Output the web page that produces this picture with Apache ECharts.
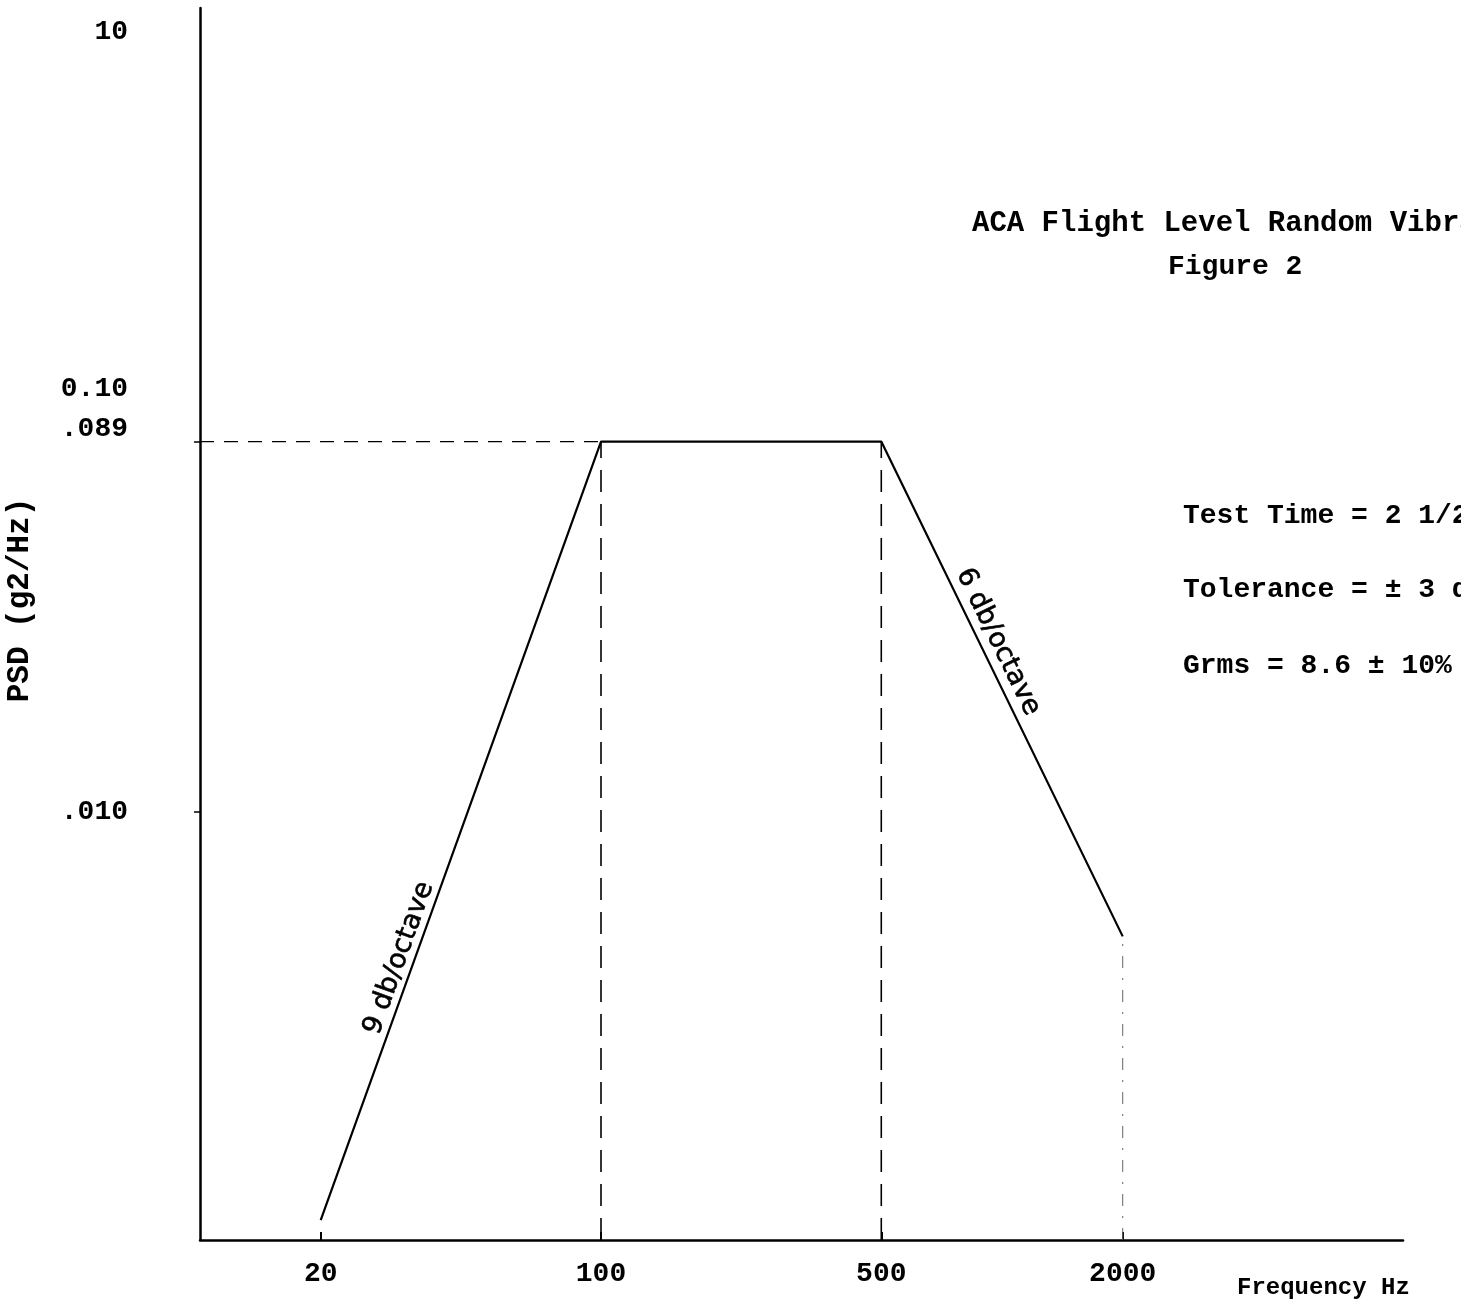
<!DOCTYPE html>
<html><head><meta charset="utf-8">
<script src="https://cdn.jsdelivr.net/npm/echarts@6/dist/echarts.min.js"></script>
<style>html,body{margin:0;padding:0;background:#fff}#c{width:1461px;height:1305px}</style>
</head><body><div id="c"></div>
<script>
// ---- data ----
const frequencies = [20, 100, 500, 2000];
const psdValues = [0.0009, 0.089, 0.089, 0.0048];
const xTickValues = [20, 100, 500, 2000];
const xTickLabels = ['20', '100', '500', '2000'];
const yTickValues = [1.0, 0.10, 0.089, 0.010];
const yTickLabels = ['10', '0.10', '.089', '.010'];
const yMarkedTicks = [0.089, 0.010];
const xRange = [10, 10000];
const yRange = [0.0008, 1.15];
const slopeLabels = ['9 db/octave', '6 db/octave'];
const titleLines = ['ACA Flight Level Random Vibration', 'Figure 2'];
const noteLines = ['Test Time = 2 1/2', 'Tolerance = \u00b1 3 db', 'Grms = 8.6 \u00b1 10%'];
const xName = 'Frequency Hz';
const yName = 'PSD (g2/Hz)';

// ---- styles ----
const TYPE = '"Liberation Mono", "DejaVu Sans Mono", monospace';
const SANS = '"DejaVu Sans", "Liberation Sans", sans-serif';
const labelLift = { '0.10': 66, '.089': 26 }; // extra empty line height -> visual lift

function findIdx(arr, v) {
  for (let i = 0; i < arr.length; i++) {
    if (Math.abs(arr[i] - v) <= Math.abs(arr[i]) * 1e-6) return i;
  }
  return -1;
}

const chart = echarts.init(document.getElementById('c'), null, { renderer: 'canvas' });

const dashStyle = { color: '#000', width: 1.6, type: [22, 12] };
const guideSeries = [];
guideSeries.push({
  type: 'line', silent: true, symbol: 'none', animation: false,
  lineStyle: { color: '#000', width: 1.4, type: [14, 10] },
  data: [[xRange[0], psdValues[1]], [frequencies[1], psdValues[1]]]
});
for (let i = 1; i < frequencies.length; i++) {
  const last = i === frequencies.length - 1;
  guideSeries.push({
    type: 'line', silent: true, symbol: 'none', animation: false,
    lineStyle: last ? { color: '#666', width: 1, type: [12, 10, 2, 10] } : dashStyle,
    data: [[frequencies[i], yRange[0]], [frequencies[i], psdValues[i]]]
  });
}

chart.setOption({
  animation: false,
  backgroundColor: '#fff',
  grid: { left: 200, right: 58, top: 8, bottom: 65, containLabel: false, outerBoundsMode: 'none' },
  xAxis: {
    type: 'log', min: xRange[0], max: xRange[1],
    axisLine: { show: true, lineStyle: { color: '#000', width: 2.5 } },
    axisTick: { show: true, inside: true, length: 8, customValues: xTickValues, lineStyle: { color: '#000', width: 2 } },
    minorTick: { show: false },
    splitLine: { show: false },
    axisLabel: {
      show: true, customValues: xTickValues, margin: 20,
      fontFamily: TYPE, fontSize: 28, fontWeight: 'bold', color: '#000',
      formatter: function (v) { const i = findIdx(xTickValues, v); return i >= 0 ? xTickLabels[i] : ''; }
    }
  },
  yAxis: {
    type: 'log', min: yRange[0], max: yRange[1],
    name: yName, nameLocation: 'middle', nameRotate: 90, nameGap: 164,
    nameTextStyle: { fontFamily: TYPE, fontSize: 31, fontWeight: 'bold', color: '#000', padding: [0, 0, 0, 48] },
    axisLine: { show: true, lineStyle: { color: '#000', width: 2.5 } },
    axisTick: { show: true, length: 6, customValues: yMarkedTicks, lineStyle: { color: '#000', width: 1.5 } },
    minorTick: { show: false },
    splitLine: { show: false },
    axisLabel: {
      show: true, customValues: yTickValues, margin: 72,
      color: '#000',
      formatter: function (v) {
        const i = findIdx(yTickValues, v);
        if (i < 0) return '';
        const t = yTickLabels[i];
        const lift = labelLift[t];
        if (lift === 66) return '{t|' + t + '}\n{s66| }';
        if (lift === 26) return '{t|' + t + '}\n{s26| }';
        return '{t|' + t + '}';
      },
      rich: {
        t: { fontFamily: TYPE, fontSize: 28, fontWeight: 'bold', color: '#000', lineHeight: 26 },
        s66: { fontSize: 2, lineHeight: 66 },
        s26: { fontSize: 2, lineHeight: 26 }
      }
    }
  },
  series: [
    {
      type: 'line', name: 'PSD', symbol: 'none', silent: true, animation: false,
      lineStyle: { color: '#000', width: 2.2 },
      data: frequencies.map((f, i) => [f, psdValues[i]])
    }
  ].concat(guideSeries)
});

// slope labels placed along their segments using the chart's own scales
function slopeLabel(text, i0, i1, t, offset) {
  const p0 = chart.convertToPixel({ gridIndex: 0 }, [frequencies[i0], psdValues[i0]]);
  const p1 = chart.convertToPixel({ gridIndex: 0 }, [frequencies[i1], psdValues[i1]]);
  const dx = p1[0] - p0[0], dy = p1[1] - p0[1];
  const len = Math.sqrt(dx * dx + dy * dy);
  let nx = dy / len, ny = -dx / len;
  if (ny > 0) { nx = -nx; ny = -ny; }
  const cx = p0[0] + dx * t + nx * offset;
  const cy = p0[1] + dy * t + ny * offset;
  return {
    type: 'text', x: cx, y: cy, rotation: Math.atan2(-dy, dx), silent: true,
    style: { text: text, fontFamily: SANS, fontSize: 27, fontWeight: 'normal', fill: '#000', align: 'center', verticalAlign: 'middle', stroke: '#000', lineWidth: 0.6 }
  };
}

const noteStyle = { fontFamily: TYPE, fontSize: 28, fontWeight: 'bold', fill: '#000', verticalAlign: 'middle' };
const graphics = [
  slopeLabel(slopeLabels[0], 0, 1, 0.33, 15),
  slopeLabel(slopeLabels[1], 2, 3, 0.42, 17),
  { type: 'text', x: 972, y: 224, silent: true, style: Object.assign({ text: titleLines[0], fontSize: 29 }, { fontFamily: TYPE, fontWeight: 'bold', fill: '#000', verticalAlign: 'middle' }) },
  { type: 'text', x: 1168, y: 267, silent: true, style: Object.assign({ text: titleLines[1] }, noteStyle) },
  { type: 'text', x: 1183, y: 516, silent: true, style: Object.assign({ text: noteLines[0] }, noteStyle) },
  { type: 'text', x: 1183, y: 590, silent: true, style: Object.assign({ text: noteLines[1] }, noteStyle) },
  { type: 'text', x: 1183, y: 666, silent: true, style: Object.assign({ text: noteLines[2] }, noteStyle) },
  { type: 'text', x: 1237, y: 1288, silent: true, style: { text: xName, fontFamily: TYPE, fontSize: 24, fontWeight: 'bold', fill: '#000', verticalAlign: 'middle' } }
];
chart.setOption({ graphic: graphics });
</script>
</body></html>
